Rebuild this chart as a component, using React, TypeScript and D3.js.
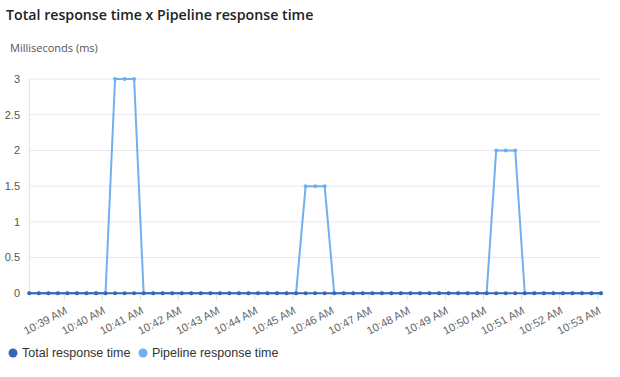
import React from "react";
import * as d3 from "d3";

const times: string[] = [
  "10:38:05","10:38:20","10:38:35","10:38:50",
  "10:39:05","10:39:20","10:39:35","10:39:50",
  "10:40:05","10:40:20","10:40:35","10:40:50",
  "10:41:05","10:41:20","10:41:35","10:41:50",
  "10:42:05","10:42:20","10:42:35","10:42:50",
  "10:43:05","10:43:20","10:43:35","10:43:50",
  "10:44:05","10:44:20","10:44:35","10:44:50",
  "10:45:05","10:45:20","10:45:35","10:45:50",
  "10:46:05","10:46:20","10:46:35","10:46:50",
  "10:47:05","10:47:20","10:47:35","10:47:50",
  "10:48:05","10:48:20","10:48:35","10:48:50",
  "10:49:05","10:49:20","10:49:35","10:49:50",
  "10:50:05","10:50:20","10:50:35","10:50:50",
  "10:51:05","10:51:20","10:51:35","10:51:50",
  "10:52:05","10:52:20","10:52:35","10:52:50",
  "10:53:05",
];

const pipelineValues: number[] = [
  0,0,0,0, 0,0,0,0, 0,3,3,3, 0,0,0,0,
  0,0,0,0, 0,0,0,0, 0,0,0,0, 0,1.5,1.5,1.5,
  0,0,0,0, 0,0,0,0, 0,0,0,0, 0,0,0,0,
  0,2,2,2, 0,0,0,0, 0,0,0,0, 0,
];

const totalValues: number[] = [
  0,0,0,0, 0,0,0,0, 0,0,0,0, 0,0,0,0,
  0,0,0,0, 0,0,0,0, 0,0,0,0, 0,0,0,0,
  0,0,0,0, 0,0,0,0, 0,0,0,0, 0,0,0,0,
  0,0,0,0, 0,0,0,0, 0,0,0,0, 0,
];

const yTicks: number[] = [0, 0.5, 1, 1.5, 2, 2.5, 3];
const seriesNames: string[] = ["Total response time", "Pipeline response time"];
const seriesColors: string[] = ["#3567b7", "#70b0f0"];
const title = "Total response time x Pipeline response time";
const yTitle = "Milliseconds (ms)";

const parseT = (s: string) => {
  const [h, m, sec] = s.split(":").map(Number);
  return new Date(2024, 0, 1, h, m, sec);
};

export default function App() {
  const W = 620, H = 377;
  const dates = times.map(parseT);
  const x = d3.scaleTime().domain([dates[0], dates[dates.length - 1]]).range([29.3, 601]);
  const y = d3.scaleLinear().domain([0, 3]).range([293.3, 79]);
  const xTicks = x.ticks(d3.timeMinute.every(1)!).filter(d => d >= dates[0] && d <= dates[dates.length - 1]);
  const fmt = d3.timeFormat("%-I:%M %p");

  const mk = (vals: number[]) => d3.line<number>().x((_, i) => x(dates[i])).y(v => y(v))(vals) || "";
  const series = [
    { name: seriesNames[1], color: seriesColors[1], vals: pipelineValues },
    { name: seriesNames[0], color: seriesColors[0], vals: totalValues },
  ];
  const axisFont = "'Liberation Sans', Arial, sans-serif";

  return (
    <svg width={W} height={H} style={{ position: "absolute", left: 0, top: 0, background: "#fff" }}>
      <text x={6} y={20} fontFamily="'Open Sans', sans-serif" fontSize={14.2} fontWeight={600} fill="#222">{title}</text>
      <text x={10} y={52} fontFamily="'Open Sans', sans-serif" fontSize={11} fill="#555">{yTitle}</text>
      {yTicks.map(t => (
        <g key={t}>
          <line x1={29.3} x2={601} y1={y(t)} y2={y(t)} stroke="#e8e8e8" strokeWidth={1} />
          <text x={20} y={y(t)} dy="0.35em" textAnchor="end" fontFamily={axisFont} fontSize={11} fill="#555">{t}</text>
        </g>
      ))}
      <line x1={29.3} x2={29.3} y1={79} y2={293.3} stroke="#e0e0e0" />
      {xTicks.map(t => (
        <g key={+t}>
          <line x1={x(t)} x2={x(t)} y1={294} y2={300} stroke="#dcdcdc" />
          <text transform={`translate(${x(t)},${306}) rotate(-28)`} textAnchor="end" dy="0.7em" fontFamily={axisFont} fontSize={11.2} fill="#666">{fmt(t)}</text>
        </g>
      ))}
      {series.map(s => (
        <g key={s.name}>
          <path d={mk(s.vals)} fill="none" stroke={s.color} strokeWidth={2} strokeLinejoin="round" />
          {s.vals.map((v, i) => (
            <circle key={i} cx={x(dates[i])} cy={y(v)} r={2} fill={s.color} />
          ))}
        </g>
      ))}
      <g fontFamily={axisFont} fontSize={12.5} fill="#333">
        <circle cx={13} cy={353} r={4.5} fill={seriesColors[0]} />
        <text x={22} y={353} dy="0.35em">{seriesNames[0]}</text>
        <circle cx={143} cy={353} r={4.5} fill={seriesColors[1]} />
        <text x={152} y={353} dy="0.35em">{seriesNames[1]}</text>
      </g>
    </svg>
  );
}
